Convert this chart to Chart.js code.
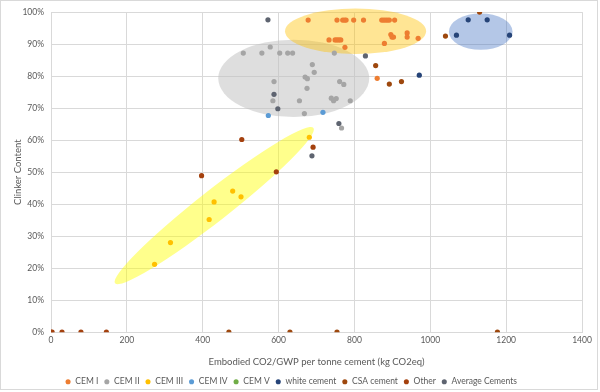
<!DOCTYPE html>
<html>
<head>
<meta charset="utf-8">
<script src="https://cdn.jsdelivr.net/npm/chart.js@4/dist/chart.umd.min.js"></script>
<style>
    html, body { margin: 0; padding: 0; background: #ffffff; }
    #wrap { width: 600px; height: 392px; }
</style>
</head>
<body>
<div id="wrap"><canvas id="cementChart" width="600" height="392"></canvas></div>
<script>
// Embodied CO2 (kg CO2eq / t) vs clinker content (%)
const cem1X = [678, 754, 769, 774, 778, 798, 824, 872, 877, 882, 887, 892, 906,
               733, 749, 754, 759, 764, 775, 879, 896, 899, 903, 939, 939, 968, 860];
const cem1Y = [97.5, 97.5, 97.5, 97.5, 97.5, 97.5, 97.5, 97.5, 97.5, 97.5, 97.5, 97.5, 97.5,
               91.3, 91.3, 91.3, 91.3, 91.3, 89.0, 90.2, 93.0, 92.2, 92.2, 93.5, 92.2, 91.8, 79.3];

const cem2X = [578, 507, 556, 603, 624, 637, 747, 689, 694, 670, 676, 588, 761, 772,
               675, 585, 655, 739, 752, 745, 789, 668, 766];
const cem2Y = [89.1, 87.2, 87.2, 87.2, 87.2, 87.2, 87.2, 83.6, 81.2, 79.7, 79.2, 78.3, 78.3, 77.4,
               76.2, 72.3, 72.3, 73.1, 73.0, 72.3, 72.3, 68.3, 63.8];

const cem3X = [273, 315, 417, 430, 479, 501, 681];
const cem3Y = [21.2, 28.0, 35.2, 40.7, 44.1, 42.3, 60.9];

const cem4X = [573, 717];
const cem4Y = [67.7, 68.7];

const cem5X = [501];
const cem5Y = [42.3];

const whiteX = [1100, 1150, 1069, 1209, 971];
const whiteY = [97.6, 97.6, 92.8, 92.8, 80.3];

const csaX = [1130, 1040, 856, 892, 924, 469, 630, 754, 1177];
const csaY = [100, 92.5, 83.3, 77.5, 78.3, 0, 0, 0, 0];

const otherX = [691, 503, 594, 397, 0, 3, 29, 79, 146];
const otherY = [57.8, 60.2, 50.1, 48.9, 0, 0, 0, 0, 0];

const avgX = [572, 588, 598, 829, 759, 688];
const avgY = [97.6, 74.3, 69.8, 86.3, 65.2, 55.1];

const seriesNames = ['CEM I', 'CEM II', 'CEM III', 'CEM IV', 'CEM V',
                     'white cement', 'CSA cement', 'Other', 'Average Cements'];
const seriesColors = ['#ED7D31', '#A5A5A5', '#FFC000', '#5B9BD5', '#70AD47',
                      '#264478', '#9E480E', '#A4410E', '#5E6470'];
const seriesX = [cem1X, cem2X, cem3X, cem4X, cem5X, whiteX, csaX, otherX, avgX];
const seriesY = [cem1Y, cem2Y, cem3Y, cem4Y, cem5Y, whiteY, csaY, otherY, avgY];

const xTicks = { min: 0, max: 1400, step: 200 };
const yTicks = { min: 0, max: 100, step: 10 };

// highlight ellipses: long axis from -> to (data units), half width in % units
const zones = [
    { from: [441, 79.3], to: [839, 79.3], halfWidth: 12.1, fill: 'rgba(191,191,191,0.52)' },
    { from: [617, 94.0], to: [989, 94.0], halfWidth: 7.1, fill: 'rgba(255,192,0,0.42)' },
    { from: [1049, 93.9], to: [1217, 93.9], halfWidth: 5.7, fill: 'rgba(68,114,196,0.40)' },
    { from: [169, 15.3], to: [692, 63.8], halfWidth: 4.8, fill: 'rgba(255,255,0,0.45)' }
];

const zonePlugin = {
    id: 'zones',
    beforeDatasetsDraw(chart) {
        const { ctx, scales: { x, y } } = chart;
        ctx.save();
        zones.forEach(z => {
            const x1 = x.getPixelForValue(z.from[0]), y1 = y.getPixelForValue(z.from[1]);
            const x2 = x.getPixelForValue(z.to[0]), y2 = y.getPixelForValue(z.to[1]);
            const half = Math.abs(y.getPixelForValue(0) - y.getPixelForValue(z.halfWidth));
            ctx.beginPath();
            ctx.ellipse((x1 + x2) / 2, (y1 + y2) / 2, Math.hypot(x2 - x1, y2 - y1) / 2, half,
                Math.atan2(y2 - y1, x2 - x1), 0, Math.PI * 2);
            ctx.fillStyle = z.fill;
            ctx.fill();
        });
        ctx.restore();
    }
};

// light frame round the whole chart, like the spreadsheet chart area
const framePlugin = {
    id: 'frame',
    afterDraw(chart) {
        const ctx = chart.ctx;
        ctx.save();
        ctx.strokeStyle = '#D9D9D9';
        ctx.lineWidth = 1;
        ctx.strokeRect(0.5, 0.5, 597, 389);
        ctx.restore();
    }
};

const datasets = seriesNames.map((name, i) => ({
    label: name,
    data: seriesX[i].map((v, j) => ({ x: v, y: seriesY[i][j] })),
    backgroundColor: seriesColors[i],
    borderColor: seriesColors[i],
    pointRadius: name === 'CEM V' ? 1.6 : 2.6,
    pointBorderWidth: 0,
    showLine: false
}));

const textColor = '#595959';
const fontFamily = 'Lato, "Open Sans", sans-serif';

new Chart(document.getElementById('cementChart'), {
    type: 'scatter',
    data: { datasets },
    plugins: [zonePlugin, framePlugin],
    options: {
        responsive: false,
        animation: false,
        layout: { padding: { left: 0, right: 18, top: 7, bottom: -4 } },
        plugins: {
            tooltip: { enabled: false },
            legend: {
                position: 'bottom',
                labels: {
                    usePointStyle: true,
                    boxWidth: 6,
                    boxHeight: 3.6,
                    padding: 5.5,
                    color: textColor,
                    font: { family: fontFamily, size: 8.5 }
                }
            }
        },
        scales: {
            x: {
                type: 'linear',
                min: xTicks.min,
                max: xTicks.max,
                grid: { color: '#D9D9D9', drawTicks: false },
                border: { color: '#D9D9D9' },
                ticks: {
                    stepSize: xTicks.step,
                    padding: 3,
                    color: textColor,
                    font: { family: fontFamily, size: 8.5 },
                    callback: value => String(value)
                },
                title: {
                    display: true,
                    text: 'Embodied CO2/GWP per tonne cement (kg CO2eq)',
                    color: textColor,
                    font: { family: fontFamily, size: 9.5 },
                    padding: { top: 4, bottom: 4 }
                },
                afterFit(scale) { scale.height = 39.8; }
            },
            y: {
                type: 'linear',
                min: yTicks.min,
                max: yTicks.max,
                grid: { color: '#D9D9D9', drawTicks: false },
                border: { color: '#D9D9D9' },
                ticks: {
                    stepSize: yTicks.step,
                    padding: 7,
                    color: textColor,
                    font: { family: fontFamily, size: 8.5 },
                    callback: value => value + '%'
                },
                title: {
                    display: true,
                    text: 'Clinker Content',
                    color: textColor,
                    font: { family: fontFamily, size: 9.5 },
                    padding: { top: 12, bottom: 0 }
                },
                afterFit(scale) { scale.width = 51; }
            }
        }
    }
});
</script>
</body>
</html>
